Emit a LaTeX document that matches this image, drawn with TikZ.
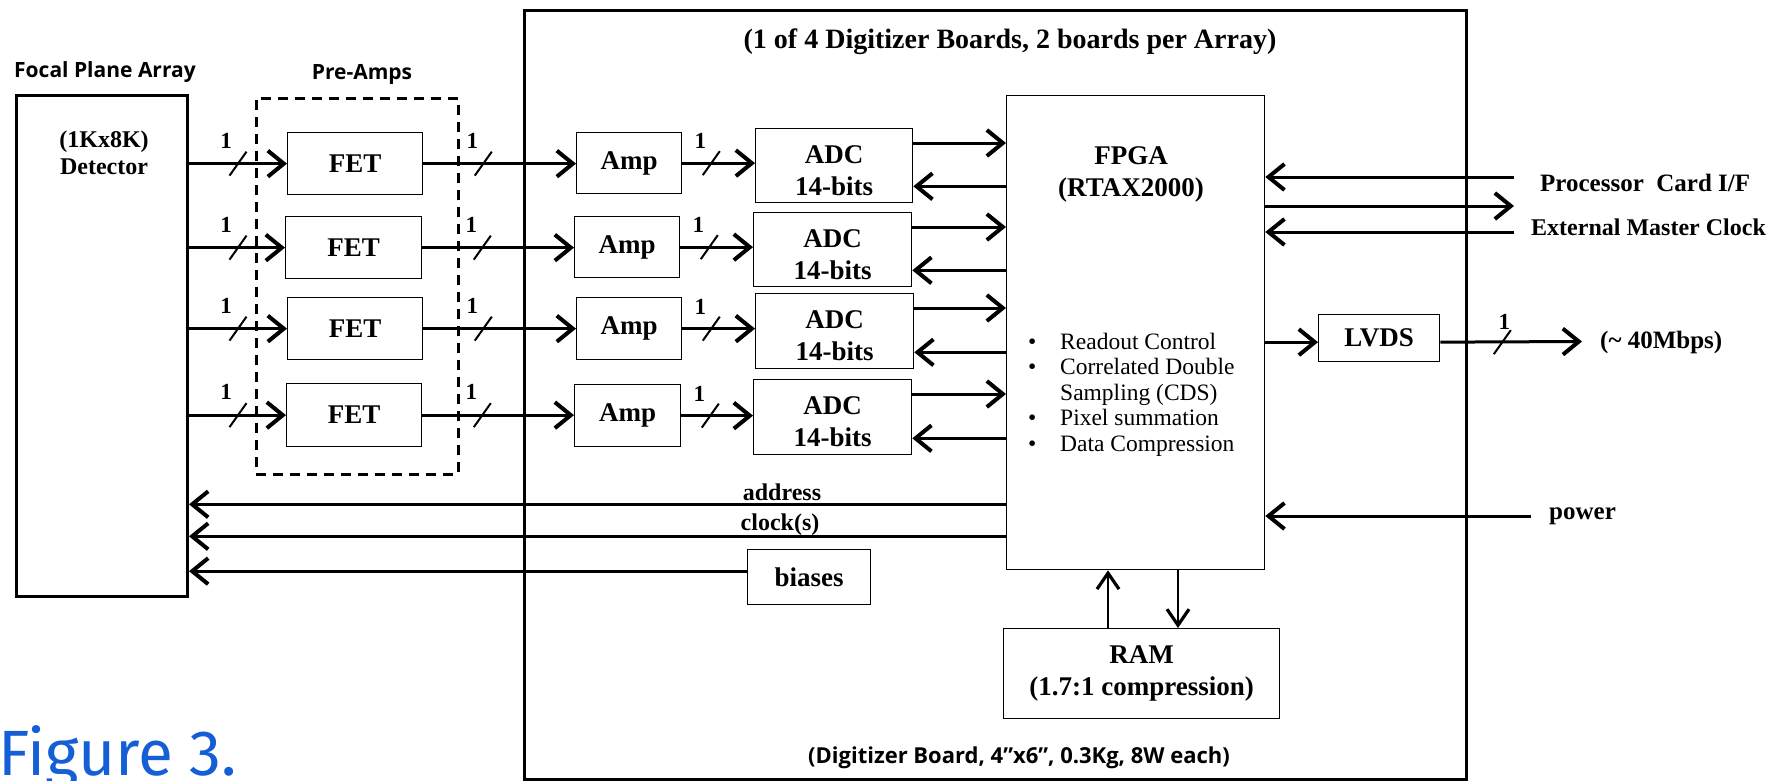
\documentclass[tikz,border=0pt]{standalone}
\usepackage{fontspec}
\setmainfont{Liberation Serif}
\newfontfamily\lblsans{Open Sans}
\newfontfamily\figsans{Fira Sans}
\usetikzlibrary{arrows.meta,calc}
\definecolor{figblue}{RGB}{20,94,214}
\begin{document}
\begin{tikzpicture}[x=1pt,y=-1pt,
  blk/.style={draw, line width=1.3pt, inner sep=0pt, anchor=north west, align=center, font=\bfseries\fontsize{27}{32}\selectfont},
  blktxt/.style={inner sep=0pt, align=center, font=\bfseries\fontsize{27}{32}\selectfont},
  arr/.style={line width=3pt, -{Straight Barb[length=16pt,width=26pt,line width=4pt]}},
  thinarr/.style={line width=2.4pt, -{Straight Barb[length=16pt,width=22pt,line width=3.2pt]}},
  slashmk/.style={line width=2pt},
  onelab/.style={font=\bfseries\fontsize{23}{24}\selectfont, inner sep=0pt},
  sig/.style={font=\bfseries\fontsize{24}{26}\selectfont, inner sep=0pt},
  hdr/.style={font=\lblsans\bfseries\fontsize{21}{24}\selectfont, inner sep=0pt},
  bul/.style={font=\fontsize{23.5}{24}\selectfont, inner sep=0pt, anchor=base west},
]
\useasboundingbox (0,0) rectangle (1777,780);

% outer frames
\node[draw, line width=3pt, minimum width=171pt, minimum height=501pt, inner sep=0pt, anchor=north west] (fpa) at (15,94) {};
\node[draw, dash pattern=on 10pt off 7pt, line width=2.5pt, minimum width=202pt, minimum height=376pt, inner sep=0pt, anchor=north west] (pre) at (255,97) {};
\node[draw, line width=2.5pt, minimum width=942pt, minimum height=769pt, inner sep=0pt, anchor=north west] (board) at (523,9) {};

% headers
\node[hdr] (fpalbl) at (105,72) {Focal Plane Array};
\node[hdr] (prelbl) at (362,74) {Pre-Amps};
\node[font=\bfseries\fontsize{28}{30}\selectfont, inner sep=0pt] (title) at (1010,42) {(1 of 4 Digitizer Boards, 2 boards per Array)};
\node[font=\lblsans\bfseries\fontsize{22}{24}\selectfont, inner sep=0pt] (foot) at (1019,758) {(Digitizer Board, 4”x6”, 0.3Kg, 8W each)};
\node[font=\bfseries\fontsize{24}{27}\selectfont, align=center, inner sep=0pt] (det) at (104,153) {(1Kx8K)\\Detector};

% FETs
\node[blk, minimum width=135pt, minimum height=62pt] (fet1) at (287,132) {FET};
\node[blk, minimum width=136pt, minimum height=62pt] (fet2) at (285,216) {FET};
\node[blk, minimum width=135pt, minimum height=62pt] (fet3) at (287,297) {FET};
\node[blk, minimum width=135pt, minimum height=63pt] (fet4) at (286,383) {FET};
% Amps
\node[blk, minimum width=105pt, minimum height=61pt] (amp1) at (576,132) {Amp};
\node[blk, minimum width=105pt, minimum height=61pt] (amp2) at (574,216) {Amp};
\node[blk, minimum width=105pt, minimum height=62pt] (amp3) at (576,297) {Amp};
\node[blk, minimum width=106pt, minimum height=62pt] (amp4) at (574,384) {Amp};
% ADCs
\node[blk, minimum width=157pt, minimum height=74pt] (adc1) at (755,128) {};
\node[blk, minimum width=158pt, minimum height=74pt] (adc2) at (753,212) {};
\node[blk, minimum width=158pt, minimum height=75pt] (adc3) at (755,293) {};
\node[blk, minimum width=158pt, minimum height=75pt] (adc4) at (753,379) {};
% FPGA
\node[blk, minimum width=258pt, minimum height=474pt] (fpga) at (1006,95) {};
\node[blktxt] (fpgatxt) at (1131,174) {FPGA\\(RTAX2000)};
\node[bul] (b1) at (1028,349) {•};
\node[bul] (t1) at (1060,349) {Readout Control};
\node[bul] (b2) at (1028,374) {•};
\node[bul] (t2) at (1060,374) {Correlated Double};
\node[bul] (t3) at (1060,400) {Sampling (CDS)};
\node[bul] (b4) at (1028,425) {•};
\node[bul] (t4) at (1060,425) {Pixel summation};
\node[bul] (b5) at (1028,451) {•};
\node[bul] (t5) at (1060,451) {Data Compression};
% others
\node[blk, minimum width=121pt, minimum height=47pt] (lvds) at (1318,314) {LVDS};
\node[blk, minimum width=123pt, minimum height=55pt] (biases) at (747,549) {biases};
\node[blk, minimum width=276pt, minimum height=90pt] (ram) at (1003,628) {RAM\\(1.7:1 compression)};

% right side labels
\node[sig, font=\bfseries\fontsize{25}{28}\selectfont, anchor=west] (pctxt) at (1540,183) {Processor\ \ Card I/F};
\node[sig, anchor=west] (emctxt) at (1531,227) {External Master Clock};
\node[sig, font=\bfseries\fontsize{25}{27}\selectfont, anchor=west] (mbps) at (1600,342) {(\char`\~{} 40Mbps)};
\node[sig, font=\bfseries\fontsize{25}{27}\selectfont, anchor=west] (pwr) at (1549,516) {power};

% row connectors
\foreach \i in {1,...,4} {
  \node[blktxt] (adctxt\i) at ($(adc\i.center)+(0,5)$) {ADC\\14-bits};

  \draw[arr] (fet\i.west -| fpa.east) -- (fet\i.west);
  \path (fet\i.west -| fpa.east) ++(49,0) coordinate (sa\i);
  \draw[slashmk] (sa\i) ++(-8.5,12) -- ++(17,-24);
  \node[onelab] (la\i) at ($(sa\i)+(-12,-23)$) {1};

  \draw[arr] (fet\i.east) -- (fet\i.east -| amp\i.west);
  \path (fet\i.east) ++(60,0) coordinate (sb\i);
  \draw[slashmk] (sb\i) ++(-8.5,12) -- ++(17,-24);
  \node[onelab] (lb\i) at ($(sb\i)+(-11,-23)$) {1};

  \draw[arr] (amp\i.east) -- (amp\i.east -| adc\i.west);
  \path (amp\i.east) ++(29,0) coordinate (sc\i);
  \draw[slashmk] (sc\i) ++(-8.5,12) -- ++(17,-24);
  \node[onelab] (lc\i) at ($(sc\i)+(-11,-22)$) {1};

  \path (adc\i.north east) ++(0,15) coordinate (ao\i);
  \path (adc\i.south east) ++(0,-17) coordinate (ai\i);
  \draw[arr] (ao\i) -- (ao\i -| fpga.west);
  \draw[arr] (ai\i -| fpga.west) -- (ai\i);
}

% right side connectors
\coordinate (pcin) at (1514,177);
\coordinate (pcout) at (1514,206);
\coordinate (emcin) at (1514,232);
\coordinate (pwin) at (1531,516);
\draw[arr] (pcin) -- (pcin -| fpga.east);
\draw[arr] (pcout -| fpga.east) -- (pcout);
\draw[arr] (emcin) -- (emcin -| fpga.east);
\draw[arr] (pwin) -- (pwin -| fpga.east);

\path (lvds.west) ++(0,4) coordinate (lvin);
\draw[arr] (lvin -| fpga.east) -- (lvin);
\path (lvds.east) ++(0,4) coordinate (lvo);
\coordinate (lvdsout) at (1582,341.5);
\draw[arr] (lvo) -- (lvdsout);
\path (lvo) ++(62,0) coordinate (sd);
\draw[slashmk] (sd) ++(-8.5,12) -- ++(17,-24);
\node[onelab] (ld) at ($(sd)+(2,-20)$) {1};

% RAM connectors
\path (ram.north west) ++(105,0) coordinate (ramup);
\path (ram.north west) ++(175,0) coordinate (ramdn);
\draw[thinarr] (ramup) -- (ramup |- fpga.south);
\draw[thinarr] (ramdn |- fpga.south) -- (ramdn);

% return lines to FPA
\path (fpga.south west) ++(0,-66) coordinate (addrsrc);
\path (fpga.south west) ++(0,-34) coordinate (clksrc);
\draw[arr] (addrsrc) -- (addrsrc -| fpa.east);
\draw[arr] (clksrc) -- (clksrc -| fpa.east);
\path (biases.west) ++(0,-6) coordinate (bsrc);
\draw[arr] (bsrc) -- (bsrc -| fpa.east);
\node[sig, anchor=base] (addrlbl) at (782,500) {address};
\node[sig, anchor=base] (clklbl) at (780,530) {clock(s)};

% caption
\node[font=\figsans\fontsize{64}{64}\selectfont, text=figblue, anchor=base west, inner sep=0pt] (figcap) at (-2,775) {Figure 3.};
\end{tikzpicture}
\end{document}
